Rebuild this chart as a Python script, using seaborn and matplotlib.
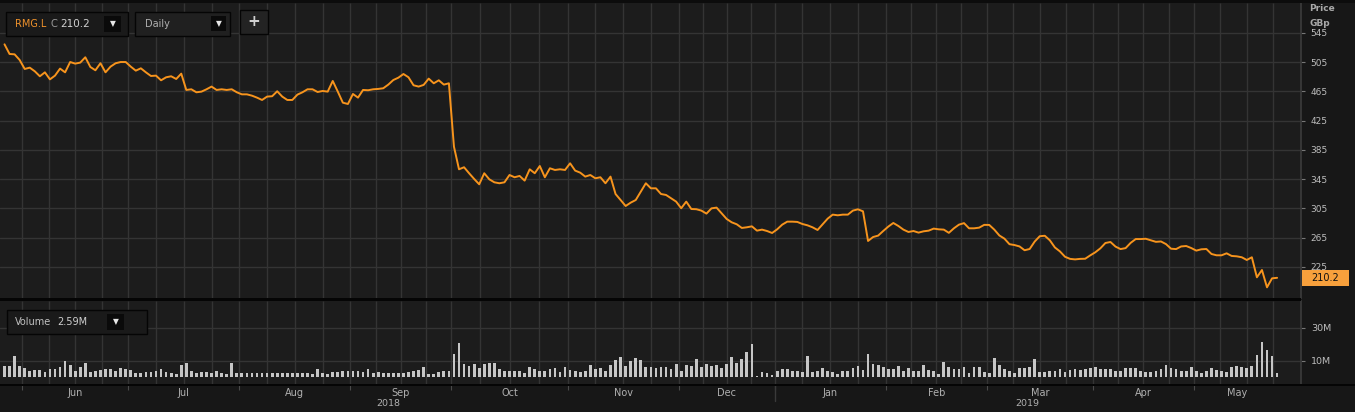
import numpy as np
import pandas as pd
import matplotlib
matplotlib.use("Agg")
import matplotlib.pyplot as plt
import matplotlib.transforms as mtransforms
from matplotlib.patches import Rectangle
from matplotlib.lines import Line2D
import seaborn as sns

# RMG.L daily close (GBp) and volume (millions)
start_date = "2018-05-25"
uk_holidays = ["2018-05-07", "2018-05-28", "2018-08-27", "2018-12-25", "2018-12-26",
               "2019-01-01", "2019-04-19", "2019-04-22", "2019-05-06", "2019-05-27"]

close = [
    529.5, 516.3, 515.8, 508.1, 495.8, 497.6, 492.6, 485.8, 491.2, 481.6,
    486.7, 496.3, 491.2, 505.3, 503.1, 504.5, 511.8, 498.5, 494.0, 503.6,
    491.2, 499.0, 503.6, 505.3, 505.3, 499.0, 493.5, 496.7, 491.2, 486.2,
    486.7, 480.3, 484.4, 485.8, 482.1, 489.4, 467.1, 468.0, 463.9, 464.8,
    468.0, 471.7, 467.1, 468.0, 467.1, 468.0, 463.9, 461.1, 461.1, 459.3,
    456.6, 453.4, 458.0, 458.5, 465.3, 458.0, 453.4, 453.4, 460.7, 463.9,
    468.0, 468.0, 464.3, 465.7, 464.8, 479.4, 464.8, 449.7, 447.9, 461.6,
    456.6, 467.1, 466.7, 468.0, 468.5, 469.4, 474.4, 480.7, 483.9, 488.9,
    484.4, 473.5, 471.7, 474.0, 482.6, 476.2, 480.3, 474.4, 476.2,
    389.6, 358.6, 361.4, 353.2, 345.4, 338.1, 353.2, 344.9, 340.8, 339.5,
    340.8, 350.8, 347.7, 349.5, 343.1, 358.6, 353.2, 363.1, 347.7, 360.0,
    357.7, 358.6, 357.7, 366.8, 356.8, 354.0, 348.6, 350.8, 346.3, 347.7,
    339.5, 348.6, 324.8, 316.6, 308.4, 313.0, 316.6, 328.1, 339.5, 332.6,
    332.6, 324.8, 323.5, 318.9, 314.4, 305.3, 314.4, 304.3, 304.0, 302.1,
    298.0, 305.2, 306.2, 298.4, 290.7, 286.1, 283.4, 278.4, 279.3, 280.6,
    274.7, 276.1, 274.2, 271.5, 276.5, 282.9, 287.0, 287.0, 286.6, 283.8,
    282.0, 279.3, 275.6, 283.4, 291.1, 296.6, 295.7, 296.6, 296.6, 302.1,
    303.9, 301.1, 260.6, 266.0, 267.9, 274.2, 280.2, 285.2, 281.1, 276.1,
    272.9, 274.2, 272.0, 273.8, 274.7, 277.5, 276.5,
    276.1, 271.7, 277.9, 282.9, 285.0, 277.9, 277.9, 278.8, 282.6, 282.5,
    276.1, 268.1, 263.8, 256.2, 255.0, 253.1, 247.9, 249.6, 259.8, 267.1,
    267.7, 261.5, 251.7, 246.3, 239.0, 236.1, 235.4, 236.1, 236.3, 240.9,
    245.1, 250.5, 257.8, 259.2, 252.9, 249.5, 250.8, 258.0, 263.2, 263.2,
    263.6, 261.5, 259.4, 259.9, 256.3, 250.0, 249.5, 253.1, 253.7, 250.9,
    247.4, 249.2, 249.6, 242.8, 241.0, 241.0, 243.7, 240.1, 239.6, 238.3,
    234.6, 238.3, 210.9, 220.9, 197.2, 209.5, 210.2,
]

volume_m = [
    6.5, 6.5, 12.9, 6.7, 5.5, 3.8, 4.0, 4.2, 3.0, 4.6,
    5.1, 6.1, 9.5, 7.1, 3.8, 5.9, 8.3, 3.0, 3.4, 4.0,
    4.6, 5.1, 3.4, 5.3, 4.6, 4.2, 2.6, 2.6, 3.0, 3.0,
    3.4, 4.6, 3.0, 2.4, 2.0, 7.5, 8.7, 3.4, 2.6, 3.0,
    3.0, 2.6, 3.4, 2.6, 1.6, 8.5, 2.6, 2.6, 2.6, 2.4,
    2.6, 2.6, 2.4, 2.6, 2.4, 2.6, 2.2, 2.4, 2.2, 2.6,
    2.2, 1.8, 4.6, 2.2, 1.8, 3.0, 3.0, 3.4, 3.4, 3.4,
    3.8, 3.0, 4.6, 2.6, 3.0, 2.2, 2.2, 2.2, 2.2, 2.6,
    3.0, 3.8, 4.0, 5.9, 2.0, 2.0, 3.0, 3.8, 3.8, 14.1,
    20.8, 8.1, 6.7, 8.1, 5.5, 8.1, 8.7, 8.7, 5.1, 3.4,
    3.8, 3.8, 3.8, 2.6, 5.9, 4.6, 3.4, 3.8, 4.6, 5.5,
    3.0, 6.1, 4.2, 3.8, 3.0, 3.8, 7.1, 4.6, 5.5, 3.4,
    7.1, 10.3, 12.3, 6.7, 9.9, 11.5, 10.1, 5.9, 5.9, 5.5,
    5.9, 6.1, 4.6, 7.9, 3.4, 7.1, 6.7, 10.7, 5.9, 7.9,
    6.7, 7.1, 5.5, 7.9, 12.1, 8.7, 11.1, 15.2, 20.0, 0.6,
    3.0, 2.6, 1.4, 3.4, 4.6, 5.1, 3.6, 3.4, 3.0, 12.7,
    3.0, 3.4, 5.5, 3.4, 3.0, 1.8, 3.8, 3.8, 5.5, 6.7, 4.2,
    14.1, 8.1, 7.5, 5.9, 4.6, 4.6, 6.7, 3.4, 5.5, 3.4,
    3.8, 7.1, 4.0, 3.4, 1.8, 9.1, 5.9, 5.1, 4.6, 5.9,
    2.6, 6.1, 5.9, 3.0, 2.6, 11.5, 7.1, 5.1, 3.8, 2.6,
    5.5, 5.5, 5.9, 10.7, 3.0, 3.0, 3.8, 3.8, 4.6, 3.0,
    4.2, 4.6, 4.2, 4.6, 5.5, 6.3, 5.1, 5.1, 4.6, 3.8,
    3.4, 5.5, 5.5, 5.5, 3.4, 3.0, 3.0, 3.4, 4.6, 7.1,
    5.5, 4.6, 3.8, 3.4, 5.9, 3.4, 2.2, 3.8, 5.5, 4.2,
    3.4, 3.0, 6.3, 6.5, 6.3, 5.2, 6.5, 13.3, 21.0, 16.6, 12.9, 2.4,
]

price_ticks = [225, 265, 305, 345, 385, 425, 465, 505, 545]
volume_ticks = [10, 30]
volume_tick_labels = ["10M", "30M"]
last_label = "210.2"
volume_label = "2.59M"

# colours
BG_OUT = "#171717"
BG_PANEL = "#1c1c1c"
GRID = "#343434"
ORANGE = "#f7941d"
BAR = "#c6c6c6"
TXT = "#bdbdbd"

sns.set_theme(style="dark")
plt.rcParams["font.family"] = ["DejaVu Sans"]

# trading calendar -> integer positions
cal = pd.bdate_range("2018-05-01", "2019-06-30", freq="C", holidays=uk_holidays)
pos0 = cal.get_loc(pd.Timestamp(start_date))
dates = cal[pos0:pos0 + len(close)]
df = pd.DataFrame({"idx": np.arange(len(close)), "close": close, "vol": volume_m, "date": dates})

# month boundaries (between last day of one month and first of next)
cal_months = cal.to_period("M")
starts = [i for i in range(len(cal)) if i == 0 or cal_months[i] != cal_months[i - 1]]
bounds = np.array(starts, dtype=float) - pos0 - 0.5
grid_x = []
for b0, b1 in zip(bounds[:-1], bounds[1:]):
    for k in range(4):
        grid_x.append(b0 + (b1 - b0) * k / 4)
grid_x = np.array(grid_x)

W, H = 1355, 412
def fx(px):
    return px / W
def fy(py):
    return 1 - py / H

fig = plt.figure(figsize=(W / 100, H / 100), dpi=100, facecolor=BG_OUT)
ax_p = fig.add_axes([0, fy(298), fx(1301), (298 - 3) / H])
ax_v = fig.add_axes([0, fy(384), fx(1301), (384 - 301) / H])

x0_px, px_per_day = 4.5, 5.05
xlim = (-x0_px / px_per_day, (1301 - x0_px) / px_per_day)

for ax in (ax_p, ax_v):
    ax.set_facecolor(BG_PANEL)
    for s in ax.spines.values():
        s.set_visible(False)
    ax.spines["right"].set_visible(True)
    ax.spines["right"].set_color("#3a3a3a")
    ax.vlines(grid_x, 0, 1, transform=ax.get_xaxis_transform(), color=GRID, lw=1, zorder=0)

# price panel
sns.lineplot(data=df, x="idx", y="close", ax=ax_p, color=ORANGE, linewidth=1.4, zorder=3)
ax_p.set_xlim(*xlim)
ax_p.set_ylim(182.6, 586.0)
ax_p.set_yticks(price_ticks)
ax_p.grid(axis="y", color=GRID, lw=1)
ax_p.grid(axis="x", visible=False)
ax_p.set_xticks([])
ax_p.yaxis.tick_right()
ax_p.tick_params(axis="y", right=True, left=False, length=3, width=0.8, color="#777777",
                 labelcolor=TXT, labelsize=6.5, pad=4)
ax_p.set_xlabel("")
ax_p.set_ylabel("")

# volume panel
sns.barplot(data=df, x="idx", y="vol", ax=ax_v, native_scale=True, color=BAR,
            width=0.55, errorbar=None, saturation=1, linewidth=0, zorder=3)
ax_v.set_xlim(*xlim)
ax_v.set_ylim(-4.24, 46.1)
ax_v.set_yticks(volume_ticks)
ax_v.set_yticklabels(volume_tick_labels)
ax_v.grid(axis="y", color=GRID, lw=1)
ax_v.grid(axis="x", visible=False)
ax_v.yaxis.tick_right()
ax_v.tick_params(axis="y", right=True, left=False, length=3, width=0.8, color="#777777",
                 labelcolor=TXT, labelsize=6.8, pad=4)
tick_b = bounds[(bounds > 0) & (bounds < len(close))]
ax_v.set_xticks(tick_b)
ax_v.tick_params(axis="x", bottom=True, length=4, width=0.8, color="#4a4a4a",
                 labelbottom=False, direction="out")
ax_v.set_xlabel("")
ax_v.set_ylabel("")

# month and year labels
trans = mtransforms.blended_transform_factory(ax_v.transData, ax_v.transAxes)
for _, g in df.groupby(df["date"].dt.to_period("M")):
    if len(g) < 5:
        continue
    ax_v.text(g["idx"].mean(), -9 / 83, g["date"].iloc[0].strftime("%b"), transform=trans,
              ha="center", va="center", color="#b0b0b0", fontsize=7, clip_on=False)
for yr, g in df.groupby(df["date"].dt.year):
    ax_v.text(g["idx"].mean(), -20 / 83, str(yr), transform=trans,
              ha="center", va="center", color="#b0b0b0", fontsize=6.8, clip_on=False)
year_b = [b for b in tick_b if dates[int(b + 0.5)].month == 1]
for b in year_b:
    ax_v.add_line(Line2D([b, b], [0, -0.2], transform=trans, color="#3a3a3a", lw=1, clip_on=False))

# frame pieces
def px_rect(x0, y0, x1, y1, face, edge="none", lw=0.0):
    fig.add_artist(Rectangle((fx(x0), fy(y1)), (x1 - x0) / W, (y1 - y0) / H,
                             transform=fig.transFigure, facecolor=face, edgecolor=edge, lw=lw))

def px_text(x, y, s, **kw):
    fig.text(fx(x), fy(y), s, **kw)

px_rect(0, 0, 1355, 3, "#0c0c0c")
px_rect(0, 298, 1301, 301, "#050505")
px_rect(0, 384, 1355, 385.5, "#050505")

# header widgets
px_rect(6, 12, 128, 36, "#1a1a1a", "#050505", 1)
px_text(15, 24, "RMG.L", color="#f0922b", fontsize=7, va="center")
px_text(51, 24, "C", color="#9a9a9a", fontsize=7.2, va="center")
px_text(60, 24, last_label, color="#d0d0d0", fontsize=7.5, va="center")
px_rect(104, 16, 121, 32, "#0a0a0a")
px_text(112.5, 24, "\u25bc", color="#e6e6e6", fontsize=5.5, ha="center", va="center")

px_rect(135, 12, 230, 36, "#202020", "#050505", 1)
px_text(145, 24, "Daily", color="#b0b0b0", fontsize=7, va="center")
px_rect(211, 16, 226, 31, "#0a0a0a")
px_text(218.5, 23.5, "\u25bc", color="#e6e6e6", fontsize=5.5, ha="center", va="center")

px_rect(240, 10, 268, 34, "#232323", "#050505", 1)
px_text(254, 22, "+", color="#d0d0d0", fontsize=11, fontweight="bold", ha="center", va="center")

px_rect(7, 310, 147, 334, "#1a1a1a", "#050505", 1)
px_text(15, 322, "Volume", color="#c0c0c0", fontsize=7, va="center")
px_text(57, 322, volume_label, color="#cfcfcf", fontsize=7, va="center")
px_rect(107, 314, 124, 330, "#0a0a0a")
px_text(115.5, 322, "\u25bc", color="#e6e6e6", fontsize=5.5, ha="center", va="center")

# axis caption and last price tag
px_text(1309, 8.5, "Price", color="#a8a8a8", fontsize=6.5, fontweight="bold", va="center")
px_text(1309, 23, "GBp", color="#a8a8a8", fontsize=6.5, fontweight="bold", va="center")
tag = mtransforms.blended_transform_factory(fig.transFigure, ax_p.transData)
ax_p.add_patch(Rectangle((fx(1302), close[-1] - 11), 47 / W, 22, transform=tag,
                         facecolor="#f7a03c", edgecolor="none", clip_on=False, zorder=5))
ax_p.text(fx(1325.5), close[-1], last_label, transform=tag, ha="center", va="center",
          color="#111111", fontsize=7, clip_on=False, zorder=6)

fig.savefig("out.png", dpi=100, facecolor=BG_OUT)
